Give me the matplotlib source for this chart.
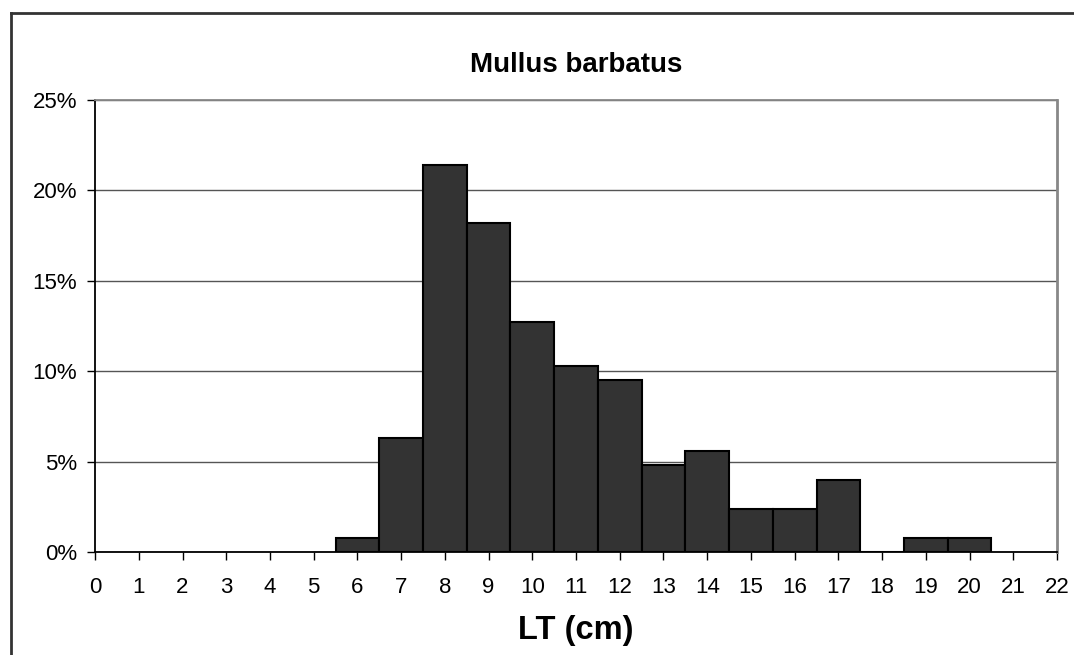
import numpy as np
import matplotlib.pyplot as plt
from matplotlib.ticker import PercentFormatter
from matplotlib.lines import Line2D

plt.rcParams['font.family'] = ['Liberation Sans', 'DejaVu Sans']

# Distribuzione di frequenza per classi di lunghezza (cm)
lengths = [6, 7, 8, 9, 10, 11, 12, 13, 14, 15, 16, 17, 18, 19, 20]
freq = [0.8, 6.3, 21.4, 18.2, 12.7, 10.3, 9.5, 4.8, 5.6, 2.4, 2.4, 4.0, 0.0, 0.8, 0.8]
xticks = list(range(0, 23))
yticks = [0, 5, 10, 15, 20, 25]

fig = plt.figure(figsize=(10.74, 6.55), dpi=100)
ax = fig.add_axes([0.0885, 0.1573, 0.8957, 0.69])

# cornice esterna (solo bordo sinistro e superiore visibili)
fig.add_artist(Line2D([11 / 1074, 11 / 1074], [0, 1 - 13 / 655], transform=fig.transFigure,
                      color='#333333', lw=2))
fig.add_artist(Line2D([11 / 1074, 1], [1 - 13 / 655, 1 - 13 / 655], transform=fig.transFigure,
                      color='#333333', lw=2))

ax.bar(lengths, freq, width=1.0, color='#333333', edgecolor='black', linewidth=1.5, zorder=3)

ax.set_xlim(0, 22)
ax.set_ylim(0, 25)
ax.set_xticks(xticks)
ax.set_yticks(yticks)
ax.yaxis.set_major_formatter(PercentFormatter(decimals=0))
ax.grid(axis='y', color='#555555', lw=1, zorder=0)
ax.set_axisbelow(True)

ax.spines['left'].set_color('black')
ax.spines['bottom'].set_color('black')
ax.spines['right'].set_color('#888888')
ax.spines['top'].set_color('#888888')
for s in ax.spines.values():
    s.set_linewidth(1.3)
ax.spines['right'].set_linewidth(2)

ax.tick_params(axis='both', direction='out', length=6, width=1, labelsize=16, pad=7)
ax.tick_params(axis='x', pad=12)

ax.set_title('Mullus barbatus', fontsize=20, fontweight='bold', pad=20)
ax.set_xlabel('LT (cm)', fontsize=23.5, fontweight='bold', labelpad=12)

fig.savefig('out.png', dpi=100)
